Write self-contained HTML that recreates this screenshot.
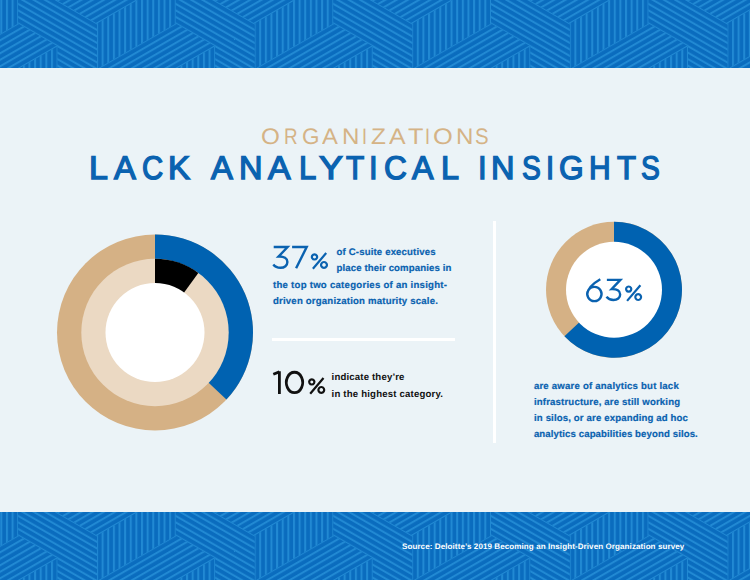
<!DOCTYPE html>
<html><head><meta charset="utf-8">
<style>
html,body{margin:0;padding:0;}
body{width:750px;height:580px;position:relative;overflow:hidden;background:#ebf3f7;font-family:"Liberation Sans",sans-serif;}
.banner{position:absolute;left:0;width:750px;height:68px;overflow:hidden;}
.t{position:absolute;white-space:nowrap;line-height:1;text-rendering:geometricPrecision;}
svg.d{position:absolute;left:0;top:0;}
</style></head><body>
<div class="banner" style="top:0"><svg width="750" height="68" viewBox="0 0 750 68" style="display:block"><defs><pattern id="pv" patternUnits="userSpaceOnUse" width="5.628" height="400" patternTransform="translate(18.20,23.40) rotate(0) translate(-1.000,0)"><rect width="5.628" height="400" fill="#0a6cbe"/><rect x="0.000" width="2.000" height="400" fill="#2189d3"/></pattern><pattern id="ps" patternUnits="userSpaceOnUse" width="5.628" height="400" patternTransform="translate(18.20,23.40) rotate(60) translate(-1.000,0)"><rect width="5.628" height="400" fill="#0a6cbe"/><rect x="0.000" width="2.000" height="400" fill="#2189d3"/></pattern><pattern id="pb" patternUnits="userSpaceOnUse" width="5.628" height="400" patternTransform="translate(18.20,23.40) rotate(-60) translate(-1.000,0)"><rect width="5.628" height="400" fill="#0a6cbe"/><rect x="0.000" width="2.000" height="400" fill="#2189d3"/></pattern></defs><rect width="750" height="68" fill="#0a6cbe"/><path d="M18.20,-22.10L18.20,23.40L-21.20,0.65ZM-21.20,0.65L-21.20,46.15L18.20,23.40ZM-21.20,-44.85L-21.20,0.65L18.20,-22.10ZM57.60,46.15L57.60,91.65L18.20,68.90ZM136.40,0.65L136.40,46.15L97.00,23.40ZM97.00,23.40L97.00,68.90L136.40,46.15ZM175.80,-22.10L175.80,23.40L136.40,0.65ZM136.40,0.65L136.40,46.15L175.80,23.40ZM136.40,-44.85L136.40,0.65L175.80,-22.10ZM215.20,46.15L215.20,91.65L175.80,68.90ZM294.00,0.65L294.00,46.15L254.60,23.40ZM254.60,23.40L254.60,68.90L294.00,46.15ZM333.40,-22.10L333.40,23.40L294.00,0.65ZM294.00,0.65L294.00,46.15L333.40,23.40ZM294.00,-44.85L294.00,0.65L333.40,-22.10ZM372.80,46.15L372.80,91.65L333.40,68.90ZM451.60,0.65L451.60,46.15L412.20,23.40ZM412.20,23.40L412.20,68.90L451.60,46.15ZM491.00,-22.10L491.00,23.40L451.60,0.65ZM451.60,0.65L451.60,46.15L491.00,23.40ZM451.60,-44.85L451.60,0.65L491.00,-22.10ZM530.40,46.15L530.40,91.65L491.00,68.90ZM609.20,0.65L609.20,46.15L569.80,23.40ZM569.80,23.40L569.80,68.90L609.20,46.15ZM648.60,-22.10L648.60,23.40L609.20,0.65ZM609.20,0.65L609.20,46.15L648.60,23.40ZM609.20,-44.85L609.20,0.65L648.60,-22.10ZM688.00,46.15L688.00,91.65L648.60,68.90ZM766.80,0.65L766.80,46.15L727.40,23.40ZM727.40,23.40L727.40,68.90L766.80,46.15ZM806.20,-22.10L806.20,23.40L766.80,0.65ZM766.80,0.65L766.80,46.15L806.20,23.40ZM766.80,-44.85L766.80,0.65L806.20,-22.10Z" fill="url(#pv)"/><path d="M18.20,23.40L18.20,68.90L-21.20,46.15ZM-21.20,46.15L-21.20,91.65L18.20,68.90ZM18.20,23.40L18.20,68.90L57.60,46.15ZM97.00,-22.10L97.00,23.40L57.60,0.65ZM57.60,-44.85L57.60,0.65L97.00,-22.10ZM97.00,-22.10L97.00,23.40L136.40,0.65ZM136.40,46.15L136.40,91.65L97.00,68.90ZM136.40,-44.85L136.40,0.65L97.00,-22.10ZM175.80,23.40L175.80,68.90L136.40,46.15ZM136.40,46.15L136.40,91.65L175.80,68.90ZM175.80,23.40L175.80,68.90L215.20,46.15ZM254.60,-22.10L254.60,23.40L215.20,0.65ZM215.20,-44.85L215.20,0.65L254.60,-22.10ZM254.60,-22.10L254.60,23.40L294.00,0.65ZM294.00,46.15L294.00,91.65L254.60,68.90ZM294.00,-44.85L294.00,0.65L254.60,-22.10ZM333.40,23.40L333.40,68.90L294.00,46.15ZM294.00,46.15L294.00,91.65L333.40,68.90ZM333.40,23.40L333.40,68.90L372.80,46.15ZM412.20,-22.10L412.20,23.40L372.80,0.65ZM372.80,-44.85L372.80,0.65L412.20,-22.10ZM412.20,-22.10L412.20,23.40L451.60,0.65ZM451.60,46.15L451.60,91.65L412.20,68.90ZM451.60,-44.85L451.60,0.65L412.20,-22.10ZM491.00,23.40L491.00,68.90L451.60,46.15ZM451.60,46.15L451.60,91.65L491.00,68.90ZM491.00,23.40L491.00,68.90L530.40,46.15ZM569.80,-22.10L569.80,23.40L530.40,0.65ZM530.40,-44.85L530.40,0.65L569.80,-22.10ZM569.80,-22.10L569.80,23.40L609.20,0.65ZM609.20,46.15L609.20,91.65L569.80,68.90ZM609.20,-44.85L609.20,0.65L569.80,-22.10ZM648.60,23.40L648.60,68.90L609.20,46.15ZM609.20,46.15L609.20,91.65L648.60,68.90ZM648.60,23.40L648.60,68.90L688.00,46.15ZM727.40,-22.10L727.40,23.40L688.00,0.65ZM688.00,-44.85L688.00,0.65L727.40,-22.10ZM727.40,-22.10L727.40,23.40L766.80,0.65ZM766.80,46.15L766.80,91.65L727.40,68.90ZM766.80,-44.85L766.80,0.65L727.40,-22.10ZM806.20,23.40L806.20,68.90L766.80,46.15ZM766.80,46.15L766.80,91.65L806.20,68.90Z" fill="url(#ps)"/><path d="M18.20,-22.10L18.20,23.40L57.60,0.65ZM57.60,0.65L57.60,46.15L18.20,23.40ZM57.60,-44.85L57.60,0.65L18.20,-22.10ZM57.60,0.65L57.60,46.15L97.00,23.40ZM97.00,23.40L97.00,68.90L57.60,46.15ZM57.60,46.15L57.60,91.65L97.00,68.90ZM175.80,-22.10L175.80,23.40L215.20,0.65ZM215.20,0.65L215.20,46.15L175.80,23.40ZM215.20,-44.85L215.20,0.65L175.80,-22.10ZM215.20,0.65L215.20,46.15L254.60,23.40ZM254.60,23.40L254.60,68.90L215.20,46.15ZM215.20,46.15L215.20,91.65L254.60,68.90ZM333.40,-22.10L333.40,23.40L372.80,0.65ZM372.80,0.65L372.80,46.15L333.40,23.40ZM372.80,-44.85L372.80,0.65L333.40,-22.10ZM372.80,0.65L372.80,46.15L412.20,23.40ZM412.20,23.40L412.20,68.90L372.80,46.15ZM372.80,46.15L372.80,91.65L412.20,68.90ZM491.00,-22.10L491.00,23.40L530.40,0.65ZM530.40,0.65L530.40,46.15L491.00,23.40ZM530.40,-44.85L530.40,0.65L491.00,-22.10ZM530.40,0.65L530.40,46.15L569.80,23.40ZM569.80,23.40L569.80,68.90L530.40,46.15ZM530.40,46.15L530.40,91.65L569.80,68.90ZM648.60,-22.10L648.60,23.40L688.00,0.65ZM688.00,0.65L688.00,46.15L648.60,23.40ZM688.00,-44.85L688.00,0.65L648.60,-22.10ZM688.00,0.65L688.00,46.15L727.40,23.40ZM727.40,23.40L727.40,68.90L688.00,46.15ZM688.00,46.15L688.00,91.65L727.40,68.90Z" fill="url(#pb)"/></svg></div>
<div class="banner" style="top:512px"><svg width="750" height="68" viewBox="0 0 750 68" style="display:block"><defs><pattern id="pv2" patternUnits="userSpaceOnUse" width="5.628" height="400" patternTransform="translate(18.20,23.40) rotate(0) translate(-1.000,0)"><rect width="5.628" height="400" fill="#0a6cbe"/><rect x="0.000" width="2.000" height="400" fill="#2189d3"/></pattern><pattern id="ps2" patternUnits="userSpaceOnUse" width="5.628" height="400" patternTransform="translate(18.20,23.40) rotate(60) translate(-1.000,0)"><rect width="5.628" height="400" fill="#0a6cbe"/><rect x="0.000" width="2.000" height="400" fill="#2189d3"/></pattern><pattern id="pb2" patternUnits="userSpaceOnUse" width="5.628" height="400" patternTransform="translate(18.20,23.40) rotate(-60) translate(-1.000,0)"><rect width="5.628" height="400" fill="#0a6cbe"/><rect x="0.000" width="2.000" height="400" fill="#2189d3"/></pattern></defs><rect width="750" height="68" fill="#0a6cbe"/><path d="M18.20,-22.10L18.20,23.40L-21.20,0.65ZM-21.20,0.65L-21.20,46.15L18.20,23.40ZM-21.20,-44.85L-21.20,0.65L18.20,-22.10ZM57.60,46.15L57.60,91.65L18.20,68.90ZM136.40,0.65L136.40,46.15L97.00,23.40ZM97.00,23.40L97.00,68.90L136.40,46.15ZM175.80,-22.10L175.80,23.40L136.40,0.65ZM136.40,0.65L136.40,46.15L175.80,23.40ZM136.40,-44.85L136.40,0.65L175.80,-22.10ZM215.20,46.15L215.20,91.65L175.80,68.90ZM294.00,0.65L294.00,46.15L254.60,23.40ZM254.60,23.40L254.60,68.90L294.00,46.15ZM333.40,-22.10L333.40,23.40L294.00,0.65ZM294.00,0.65L294.00,46.15L333.40,23.40ZM294.00,-44.85L294.00,0.65L333.40,-22.10ZM372.80,46.15L372.80,91.65L333.40,68.90ZM451.60,0.65L451.60,46.15L412.20,23.40ZM412.20,23.40L412.20,68.90L451.60,46.15ZM491.00,-22.10L491.00,23.40L451.60,0.65ZM451.60,0.65L451.60,46.15L491.00,23.40ZM451.60,-44.85L451.60,0.65L491.00,-22.10ZM530.40,46.15L530.40,91.65L491.00,68.90ZM609.20,0.65L609.20,46.15L569.80,23.40ZM569.80,23.40L569.80,68.90L609.20,46.15ZM648.60,-22.10L648.60,23.40L609.20,0.65ZM609.20,0.65L609.20,46.15L648.60,23.40ZM609.20,-44.85L609.20,0.65L648.60,-22.10ZM688.00,46.15L688.00,91.65L648.60,68.90ZM766.80,0.65L766.80,46.15L727.40,23.40ZM727.40,23.40L727.40,68.90L766.80,46.15ZM806.20,-22.10L806.20,23.40L766.80,0.65ZM766.80,0.65L766.80,46.15L806.20,23.40ZM766.80,-44.85L766.80,0.65L806.20,-22.10Z" fill="url(#pv2)"/><path d="M18.20,23.40L18.20,68.90L-21.20,46.15ZM-21.20,46.15L-21.20,91.65L18.20,68.90ZM18.20,23.40L18.20,68.90L57.60,46.15ZM97.00,-22.10L97.00,23.40L57.60,0.65ZM57.60,-44.85L57.60,0.65L97.00,-22.10ZM97.00,-22.10L97.00,23.40L136.40,0.65ZM136.40,46.15L136.40,91.65L97.00,68.90ZM136.40,-44.85L136.40,0.65L97.00,-22.10ZM175.80,23.40L175.80,68.90L136.40,46.15ZM136.40,46.15L136.40,91.65L175.80,68.90ZM175.80,23.40L175.80,68.90L215.20,46.15ZM254.60,-22.10L254.60,23.40L215.20,0.65ZM215.20,-44.85L215.20,0.65L254.60,-22.10ZM254.60,-22.10L254.60,23.40L294.00,0.65ZM294.00,46.15L294.00,91.65L254.60,68.90ZM294.00,-44.85L294.00,0.65L254.60,-22.10ZM333.40,23.40L333.40,68.90L294.00,46.15ZM294.00,46.15L294.00,91.65L333.40,68.90ZM333.40,23.40L333.40,68.90L372.80,46.15ZM412.20,-22.10L412.20,23.40L372.80,0.65ZM372.80,-44.85L372.80,0.65L412.20,-22.10ZM412.20,-22.10L412.20,23.40L451.60,0.65ZM451.60,46.15L451.60,91.65L412.20,68.90ZM451.60,-44.85L451.60,0.65L412.20,-22.10ZM491.00,23.40L491.00,68.90L451.60,46.15ZM451.60,46.15L451.60,91.65L491.00,68.90ZM491.00,23.40L491.00,68.90L530.40,46.15ZM569.80,-22.10L569.80,23.40L530.40,0.65ZM530.40,-44.85L530.40,0.65L569.80,-22.10ZM569.80,-22.10L569.80,23.40L609.20,0.65ZM609.20,46.15L609.20,91.65L569.80,68.90ZM609.20,-44.85L609.20,0.65L569.80,-22.10ZM648.60,23.40L648.60,68.90L609.20,46.15ZM609.20,46.15L609.20,91.65L648.60,68.90ZM648.60,23.40L648.60,68.90L688.00,46.15ZM727.40,-22.10L727.40,23.40L688.00,0.65ZM688.00,-44.85L688.00,0.65L727.40,-22.10ZM727.40,-22.10L727.40,23.40L766.80,0.65ZM766.80,46.15L766.80,91.65L727.40,68.90ZM766.80,-44.85L766.80,0.65L727.40,-22.10ZM806.20,23.40L806.20,68.90L766.80,46.15ZM766.80,46.15L766.80,91.65L806.20,68.90Z" fill="url(#ps2)"/><path d="M18.20,-22.10L18.20,23.40L57.60,0.65ZM57.60,0.65L57.60,46.15L18.20,23.40ZM57.60,-44.85L57.60,0.65L18.20,-22.10ZM57.60,0.65L57.60,46.15L97.00,23.40ZM97.00,23.40L97.00,68.90L57.60,46.15ZM57.60,46.15L57.60,91.65L97.00,68.90ZM175.80,-22.10L175.80,23.40L215.20,0.65ZM215.20,0.65L215.20,46.15L175.80,23.40ZM215.20,-44.85L215.20,0.65L175.80,-22.10ZM215.20,0.65L215.20,46.15L254.60,23.40ZM254.60,23.40L254.60,68.90L215.20,46.15ZM215.20,46.15L215.20,91.65L254.60,68.90ZM333.40,-22.10L333.40,23.40L372.80,0.65ZM372.80,0.65L372.80,46.15L333.40,23.40ZM372.80,-44.85L372.80,0.65L333.40,-22.10ZM372.80,0.65L372.80,46.15L412.20,23.40ZM412.20,23.40L412.20,68.90L372.80,46.15ZM372.80,46.15L372.80,91.65L412.20,68.90ZM491.00,-22.10L491.00,23.40L530.40,0.65ZM530.40,0.65L530.40,46.15L491.00,23.40ZM530.40,-44.85L530.40,0.65L491.00,-22.10ZM530.40,0.65L530.40,46.15L569.80,23.40ZM569.80,23.40L569.80,68.90L530.40,46.15ZM530.40,46.15L530.40,91.65L569.80,68.90ZM648.60,-22.10L648.60,23.40L688.00,0.65ZM688.00,0.65L688.00,46.15L648.60,23.40ZM688.00,-44.85L688.00,0.65L648.60,-22.10ZM688.00,0.65L688.00,46.15L727.40,23.40ZM727.40,23.40L727.40,68.90L688.00,46.15ZM688.00,46.15L688.00,91.65L727.40,68.90Z" fill="url(#pb2)"/></svg></div>
<svg class="d" width="750" height="580" viewBox="0 0 750 580">
<g transform="translate(155.00,332.50)">
<circle r="98.00" fill="#d5b185"/>
<path d="M0,-98.00 A98.00,98.00 0 0 1 71.44,67.09 L0,0 Z" fill="#0062b1"/>
<circle r="73.70" fill="#ebd9c3"/>
<path d="M0,-73.70 A73.70,73.70 0 0 1 43.32,-59.62 L0,0 Z" fill="#000000"/>
<circle r="49.50" fill="#fff"/>
</g>
<g transform="translate(614.00,289.75)">
<circle r="68.00" fill="#d5b185"/>
<path d="M0,-68.00 A68.00,68.00 0 1 1 -49.57,46.55 L0,0 Z" fill="#0062b1"/>
<circle r="48.00" fill="#fff"/>
</g></svg>
<div style="position:absolute;left:272.0px;top:338.0px;width:183.0px;height:3.0px;background:#fff"></div>
<div style="position:absolute;left:493.0px;top:221.0px;width:3.0px;height:222.0px;background:#fff"></div>
<div class="t" id="org" style="left:0px;top:126.00px;font-size:22.40px;color:#d5b386;"><span style="position:absolute;left:261.01px;top:0;transform:scaleX(1.0832);transform-origin:0 0">O</span><span style="position:absolute;left:284.48px;top:0;transform:scaleX(0.8420);transform-origin:0 0">R</span><span style="position:absolute;left:301.86px;top:0;transform:scaleX(1.0047);transform-origin:0 0">G</span><span style="position:absolute;left:322.04px;top:0;transform:scaleX(1.0603);transform-origin:0 0">A</span><span style="position:absolute;left:341.66px;top:0;transform:scaleX(1.0757);transform-origin:0 0">N</span><span style="position:absolute;left:362.07px;top:0;transform:scaleX(0.7995);transform-origin:0 0">I</span><span style="position:absolute;left:370.82px;top:0;transform:scaleX(1.0930);transform-origin:0 0">Z</span><span style="position:absolute;left:389.24px;top:0;transform:scaleX(1.1133);transform-origin:0 0">A</span><span style="position:absolute;left:407.80px;top:0;transform:scaleX(1.1285);transform-origin:0 0">T</span><span style="position:absolute;left:425.27px;top:0;transform:scaleX(0.7995);transform-origin:0 0">I</span><span style="position:absolute;left:432.96px;top:0;transform:scaleX(1.1348);transform-origin:0 0">O</span><span style="position:absolute;left:456.06px;top:0;transform:scaleX(1.0757);transform-origin:0 0">N</span><span style="position:absolute;left:474.74px;top:0;transform:scaleX(0.9110);transform-origin:0 0">S</span></div>
<div class="t" id="lack" style="left:0px;top:152.30px;font-size:32.85px;color:#0a62b0;-webkit-text-stroke:1.40px #0a62b0;"><span style="position:absolute;left:88.95px;top:0;transform:scaleX(1.0353);transform-origin:0 0">L</span><span style="position:absolute;left:114.03px;top:0;transform:scaleX(0.9974);transform-origin:0 0">A</span><span style="position:absolute;left:141.51px;top:0;transform:scaleX(0.8925);transform-origin:0 0">C</span><span style="position:absolute;left:168.39px;top:0;transform:scaleX(1.0109);transform-origin:0 0">K</span><span style="position:absolute;left:210.93px;top:0;transform:scaleX(0.9974);transform-origin:0 0">A</span><span style="position:absolute;left:238.93px;top:0;transform:scaleX(0.9916);transform-origin:0 0">N</span><span style="position:absolute;left:268.27px;top:0;transform:scaleX(1.0306);transform-origin:0 0">A</span><span style="position:absolute;left:299.01px;top:0;transform:scaleX(0.9490);transform-origin:0 0">L</span><span style="position:absolute;left:319.38px;top:0;transform:scaleX(1.0918);transform-origin:0 0">Y</span><span style="position:absolute;left:346.08px;top:0;transform:scaleX(0.9088);transform-origin:0 0">T</span><span style="position:absolute;left:368.63px;top:0;transform:scaleX(0.9430);transform-origin:0 0">I</span><span style="position:absolute;left:383.55px;top:0;transform:scaleX(0.9639);transform-origin:0 0">C</span><span style="position:absolute;left:411.82px;top:0;transform:scaleX(0.9808);transform-origin:0 0">A</span><span style="position:absolute;left:441.34px;top:0;transform:scaleX(0.9860);transform-origin:0 0">L</span><span style="position:absolute;left:478.13px;top:0;transform:scaleX(0.9430);transform-origin:0 0">I</span><span style="position:absolute;left:490.93px;top:0;transform:scaleX(0.9916);transform-origin:0 0">N</span><span style="position:absolute;left:521.77px;top:0;transform:scaleX(0.8594);transform-origin:0 0">S</span><span style="position:absolute;left:546.25px;top:0;transform:scaleX(0.8841);transform-origin:0 0">I</span><span style="position:absolute;left:559.15px;top:0;transform:scaleX(0.9662);transform-origin:0 0">G</span><span style="position:absolute;left:589.48px;top:0;transform:scaleX(0.9123);transform-origin:0 0">H</span><span style="position:absolute;left:616.89px;top:0;transform:scaleX(0.9483);transform-origin:0 0">T</span><span style="position:absolute;left:640.97px;top:0;transform:scaleX(0.8594);transform-origin:0 0">S</span></div>
<div class="t" id="l1" style="left:336.60px;top:247.71px;font-size:9.60px;letter-spacing:0.150px;color:#0a62b0;font-weight:bold;-webkit-text-stroke:0.20px #0a62b0;">of C-suite executives</div>
<div class="t" id="l2" style="left:336.60px;top:263.81px;font-size:9.60px;letter-spacing:0.118px;color:#0a62b0;font-weight:bold;-webkit-text-stroke:0.20px #0a62b0;">place their companies in</div>
<div class="t" id="l3" style="left:273.00px;top:280.71px;font-size:9.60px;letter-spacing:0.258px;color:#0a62b0;font-weight:bold;-webkit-text-stroke:0.20px #0a62b0;">the top two categories of an insight-</div>
<div class="t" id="l4" style="left:273.00px;top:296.50px;font-size:9.60px;letter-spacing:0.192px;color:#0a62b0;font-weight:bold;-webkit-text-stroke:0.20px #0a62b0;">driven organization maturity scale.</div>
<div class="t" id="i1" style="left:331.60px;top:372.80px;font-size:9.60px;letter-spacing:0.165px;color:#111111;font-weight:bold;">indicate they’re</div>
<div class="t" id="i2" style="left:331.60px;top:389.81px;font-size:9.60px;letter-spacing:0.193px;color:#111111;font-weight:bold;">in the highest category.</div>
<div class="t" id="r1" style="left:533.90px;top:381.50px;font-size:9.60px;letter-spacing:0.207px;color:#0a62b0;font-weight:bold;-webkit-text-stroke:0.20px #0a62b0;">are aware of analytics but lack</div>
<div class="t" id="r2" style="left:534.00px;top:397.61px;font-size:9.60px;letter-spacing:0.165px;color:#0a62b0;font-weight:bold;-webkit-text-stroke:0.20px #0a62b0;">infrastructure, are still working</div>
<div class="t" id="r3" style="left:534.00px;top:413.61px;font-size:9.60px;letter-spacing:0.145px;color:#0a62b0;font-weight:bold;-webkit-text-stroke:0.20px #0a62b0;">in silos, or are expanding ad hoc</div>
<div class="t" id="r4" style="left:533.90px;top:429.61px;font-size:9.60px;letter-spacing:0.112px;color:#0a62b0;font-weight:bold;-webkit-text-stroke:0.20px #0a62b0;">analytics capabilities beyond silos.</div>
<div class="t" id="src" style="left:402.00px;top:543.00px;font-size:8.00px;letter-spacing:0.100px;color:#ffffff;font-weight:bold;">Source: Deloitte’s 2019 Becoming an Insight-Driven Organization survey</div>
<svg class="d" width="750" height="580" viewBox="0 0 750 580"><path transform="translate(272.70,268.90) scale(1.0000,1.0000)" d="M1.0,-21.9 L14.9,-21.9 L5.9,-12.4 C11.3,-12.7 14.7,-10.4 14.7,-6.9 C14.7,-3.4 11.8,-1.1 7.8,-1.1 C4.5,-1.1 2.1,-2.4 0.6,-4.4" fill="none" stroke="#0a62b0" stroke-width="2.400"/><path transform="translate(291.50,268.90) scale(1.0000,1.0000)" d="M0.6,-21.9 L15.2,-21.9 L4.6,-0.6" fill="none" stroke="#0a62b0" stroke-width="2.400"/><path transform="translate(310.90,268.90) scale(1.0000,1.0000)" d="M3.6,-14.6 A2.6,2.6 0 1 1 3.59,-14.6 Z M13.1,-6.9 A2.9,2.9 0 1 1 13.09,-6.9 Z M15.3,-15.9 L2.0,-0.2" fill="none" stroke="#0a62b0" stroke-width="2.200"/><path transform="translate(272.70,393.90) scale(1.0000,1.0000)" d="M0.6,-19.6 L6.7,-22.0 M6.7,-22.7 L6.7,0" fill="none" stroke="#111111" stroke-width="2.800"/><path transform="translate(272.70,393.90) scale(1.0000,1.0000)" d="M21.8,-21.65 A8.15,10.2 0 1 1 21.79,-21.65 Z" fill="none" stroke="#111111" stroke-width="2.800"/><path transform="translate(308.20,393.90) scale(1.0000,1.0000)" d="M3.6,-14.6 A2.6,2.6 0 1 1 3.59,-14.6 Z M13.1,-6.9 A2.9,2.9 0 1 1 13.09,-6.9 Z M15.3,-15.9 L2.0,-0.2" fill="none" stroke="#111111" stroke-width="2.200"/><path transform="translate(586.10,301.10) scale(1.0000,1.0000)" d="M14.2,-21.8 C8.5,-18.5 1.6,-13 1.2,-7.1 M8.3,-14.2 A7.1,7.1 0 1 1 8.29,-14.2 Z" fill="none" stroke="#0a62b0" stroke-width="2.400"/><path transform="translate(605.90,301.10) scale(0.9700,0.9700)" d="M1.0,-21.9 L14.9,-21.9 L5.9,-12.4 C11.3,-12.7 14.7,-10.4 14.7,-6.9 C14.7,-3.4 11.8,-1.1 7.8,-1.1 C4.5,-1.1 2.1,-2.4 0.6,-4.4" fill="none" stroke="#0a62b0" stroke-width="2.474"/><path transform="translate(625.10,301.10) scale(1.0000,1.0000)" d="M3.6,-14.6 A2.6,2.6 0 1 1 3.59,-14.6 Z M13.1,-6.9 A2.9,2.9 0 1 1 13.09,-6.9 Z M15.3,-15.9 L2.0,-0.2" fill="none" stroke="#0a62b0" stroke-width="2.200"/></svg>
</body></html>
